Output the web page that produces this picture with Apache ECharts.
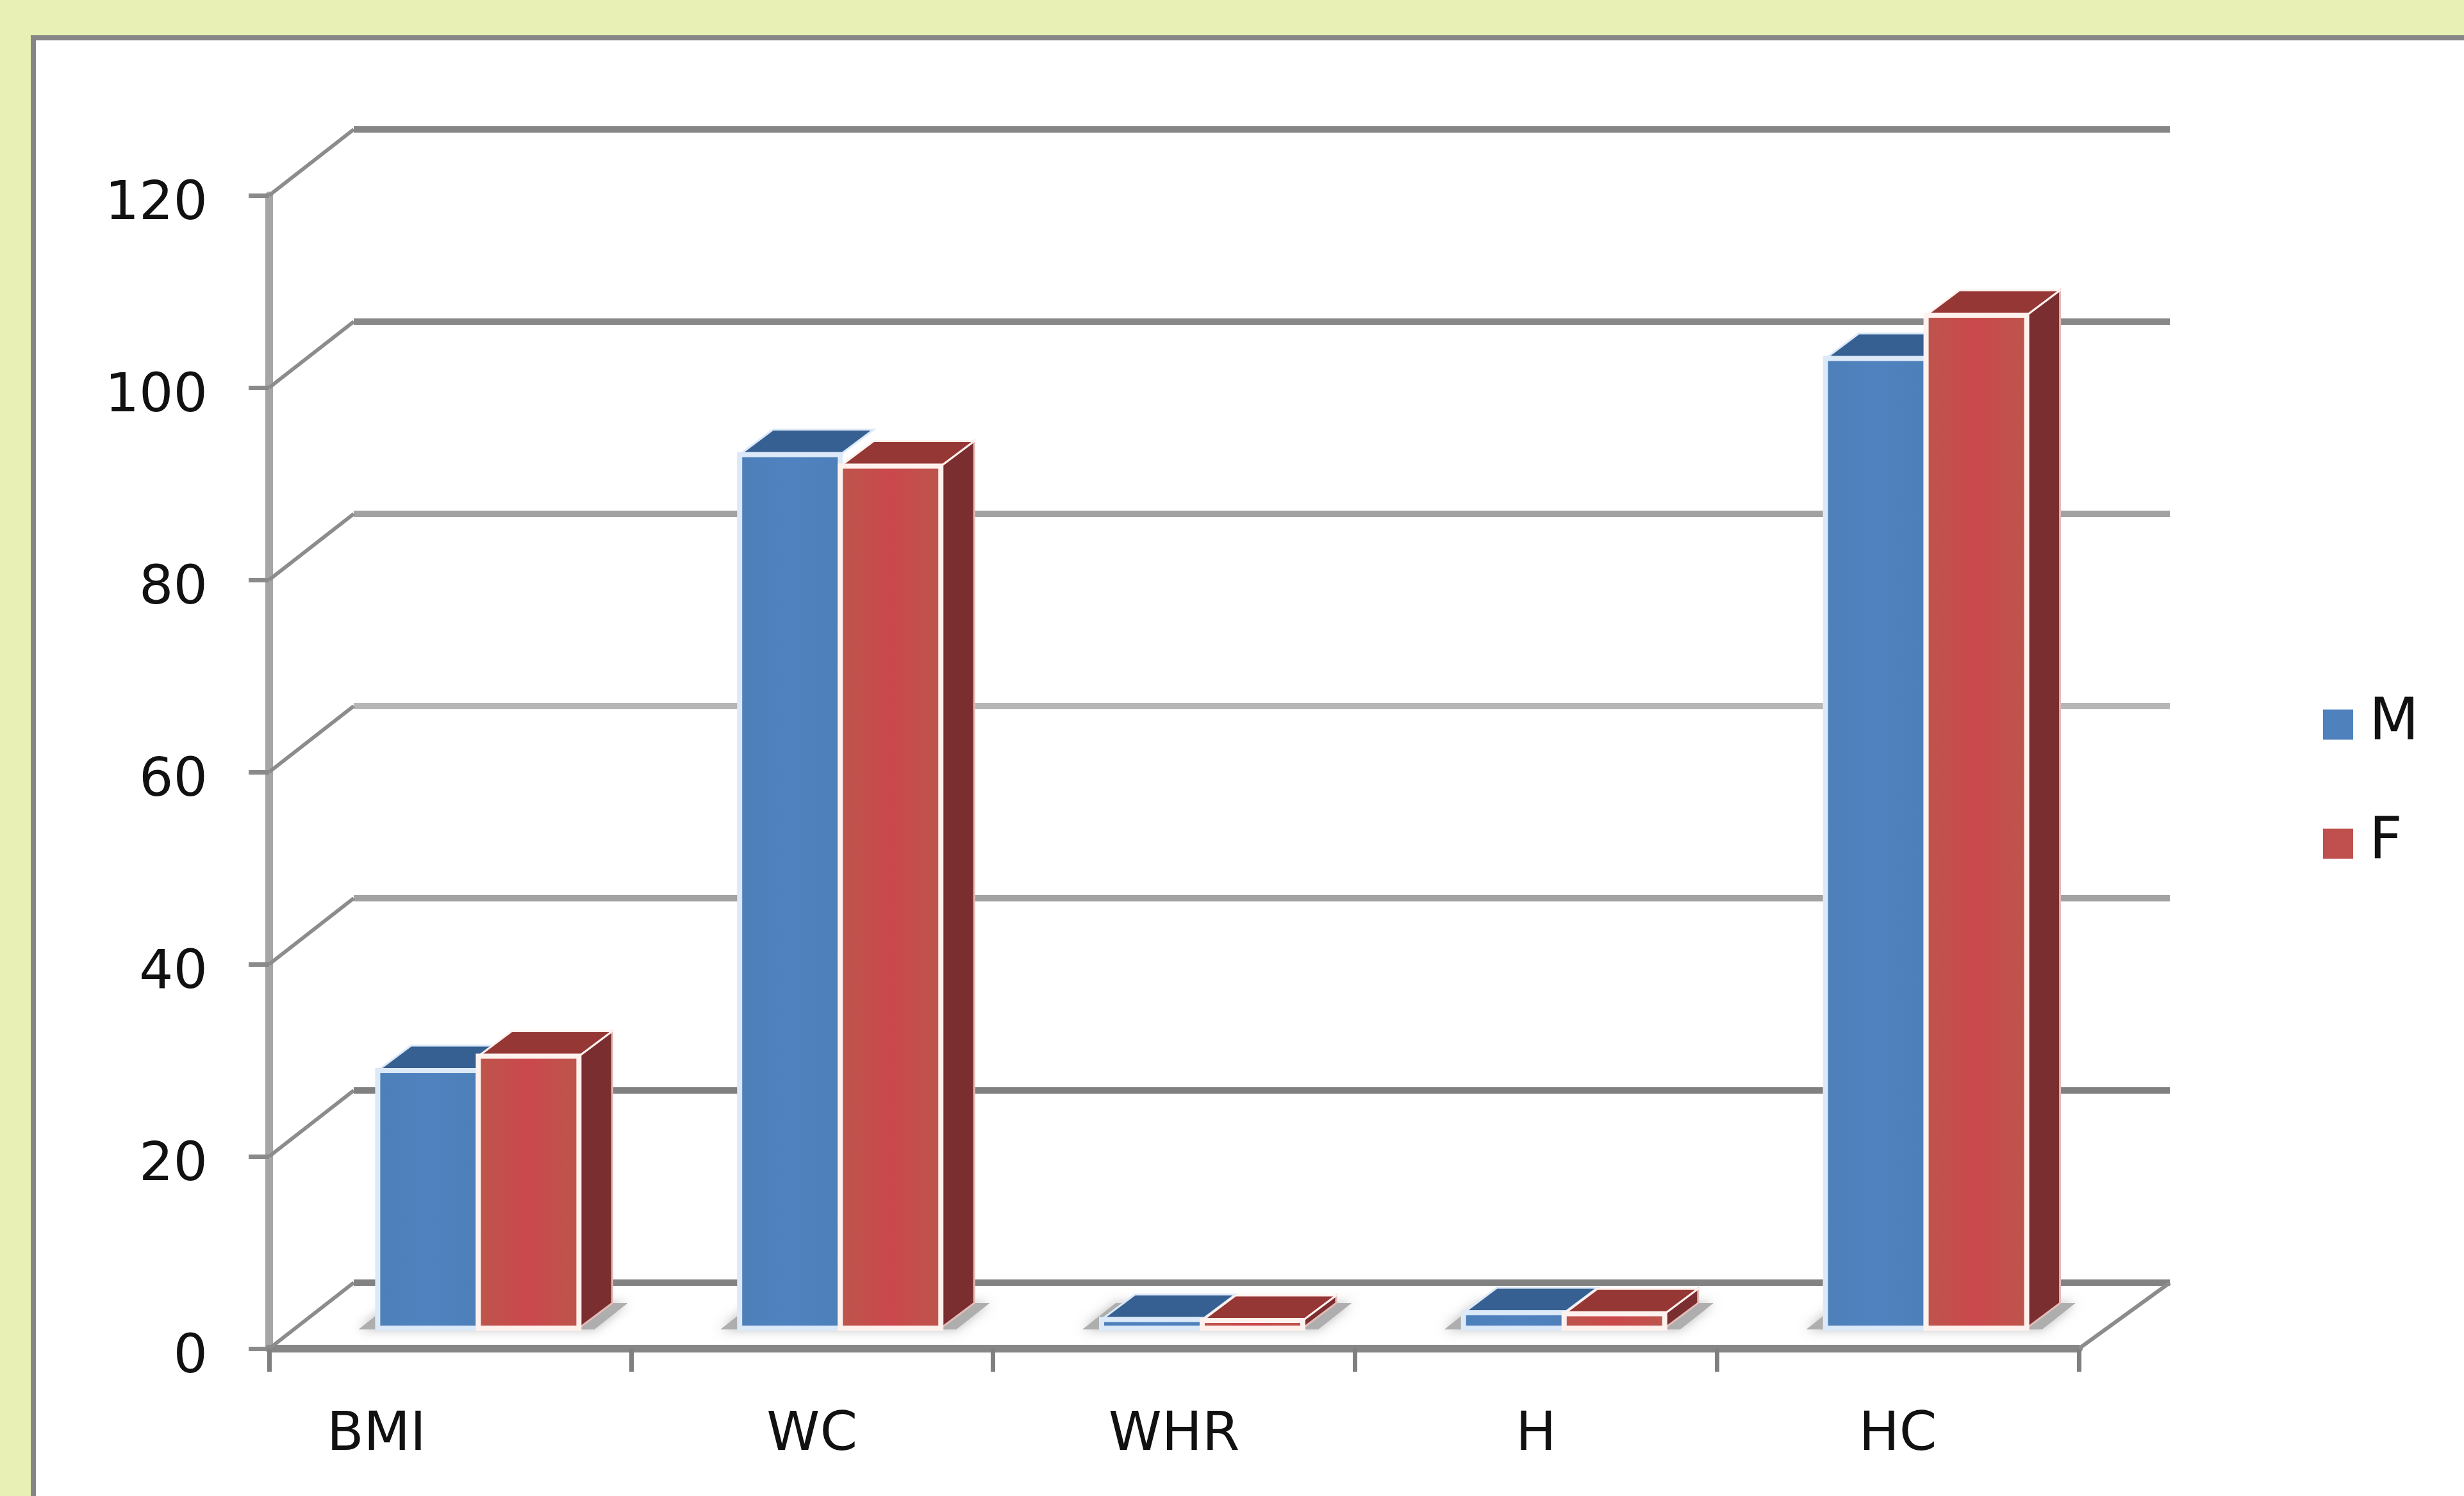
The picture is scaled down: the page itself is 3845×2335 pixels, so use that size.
<!DOCTYPE html>
<html>
<head>
<meta charset="utf-8">
<title>Chart</title>
<script src="https://cdn.jsdelivr.net/npm/echarts@6/dist/echarts.min.js"></script>
<style>
    html, body { margin: 0; padding: 0; background: #e9f0b6; }
    #chart { width: 3845px; height: 2335px; }
</style>
</head>
<body>
<div id="chart"></div>
<script>
const categories = ['BMI', 'WC', 'WHR', 'H', 'HC'];
const maleValues = [26.8, 90.9, 0.9, 1.6, 100.9];
const femaleValues = [28.3, 89.7, 0.8, 1.5, 105.4];
const gridValues = [0, 20, 40, 60, 80, 100, 120];
const gridShades = ['#828282', '#808080', '#a2a2a2', '#b6b6b6', '#a2a2a2', '#888888', '#868686'];

// pseudo 3d offsets, in pixels
const wallDx = 132, wallDy = 103;
const barDx = 52, barDy = 39;
const floorShiftX = 44, floorShiftY = 32;
const barWidth = 157;

function poly(points, style) {
    return { type: 'polygon', shape: { points: points }, style: style };
}

function wallItem(params, api) {
    const value = api.value(1);
    const left = params.coordSys.x;
    const right = left + params.coordSys.width;
    const y = api.coord([0, value])[1];
    const stroke = { stroke: gridShades[params.dataIndex], lineWidth: 10, fill: null };
    const thin = { stroke: '#8c8c8c', lineWidth: 6, fill: null };
    const children = [
        { type: 'line', shape: { x1: left + wallDx, y1: y - wallDy, x2: right + wallDx + 10, y2: y - wallDy }, style: stroke },
        { type: 'line', shape: { x1: left, y1: y, x2: left + wallDx, y2: y - wallDy }, style: thin }
    ];
    if (value === 0) {
        children.push({ type: 'line', shape: { x1: right, y1: y, x2: right + wallDx + 10, y2: y - wallDy }, style: thin });
    }
    return { type: 'group', children: children };
}

function barItem(side, colors) {
    return function (params, api) {
        const top = api.coord([api.value(0), api.value(1)]);
        const base = api.coord([api.value(0), 0]);
        const center = base[0] + floorShiftX;
        const x0 = side < 0 ? center - barWidth : center;
        const x1 = x0 + barWidth;
        const yTop = top[1] - floorShiftY;
        const yBase = base[1] - floorShiftY;
        const children = [];
        if (side < 0) {
            // soft floor shadow under the whole pair of bars
            children.push(poly([
                [x0 - 30, yBase + 2], [center + barWidth + 24, yBase + 2],
                [center + barWidth + 24 + barDx, yBase - barDy], [x0 - 30 + barDx, yBase - barDy]
            ], { fill: '#aeaeae', shadowBlur: 18, shadowColor: '#bcbcbc' }));
        } else {
            children.push(poly([[x1, yTop], [x1 + barDx, yTop - barDy], [x1 + barDx, yBase - barDy], [x1, yBase]],
                { fill: colors.side, stroke: colors.sideEdge, lineWidth: 3 }));
        }
        children.push(poly([[x0, yTop], [x1, yTop], [x1 + barDx, yTop - barDy], [x0 + barDx, yTop - barDy]],
            { fill: colors.top, stroke: colors.edge, lineWidth: 3 }));
        children.push({
            type: 'rect',
            shape: { x: x0, y: yTop, width: barWidth, height: yBase - yTop },
            style: { fill: colors.front, stroke: colors.edge, lineWidth: 8 }
        });
        return { type: 'group', children: children };
    };
}

function stripes(a, b) {
    return new echarts.graphic.LinearGradient(0, 0, 1, 0, [
        { offset: 0, color: a }, { offset: 0.5, color: b }, { offset: 1, color: a }
    ]);
}

const maleColors = { front: stripes('#4d7fb8', '#5082c0'), top: '#376092', side: '#2c4d75', sideEdge: '#2c4d75', edge: '#dce9f8', legend: '#4f81bd' };
const femaleColors = { front: stripes('#bc564c', '#cb484c'), top: '#953735', side: '#7a2e30', sideEdge: '#e2bcb7', edge: '#fff1ee', legend: '#c0504d' };

const chart = echarts.init(document.getElementById('chart'), null, { renderer: 'canvas' });

chart.setOption({
    animation: false,
    backgroundColor: '#e9f0b6',
    graphic: [{
        type: 'rect',
        z: -10,
        shape: { x: 52, y: 59, width: 3900, height: 2400 },
        style: { fill: '#ffffff', stroke: '#868686', lineWidth: 8 }
    }],
    grid: { left: 420, top: 305, width: 2824, height: 1800, containLabel: false },
    legend: {
        data: ['M', 'F'],
        orient: 'vertical',
        left: 3620,
        top: 1081,
        icon: 'rect',
        itemWidth: 47,
        itemHeight: 47,
        itemGap: 96,
        textStyle: { fontFamily: 'DejaVu Sans', fontSize: 90, color: '#111111', padding: [0, 0, 0, 20] }
    },
    xAxis: {
        type: 'category',
        data: categories.map(function (name, i) {
            // the first label sits left of its band in the original
            return i === 0 ? { value: name, textStyle: { padding: [0, 230, 0, 0] } } : name;
        }),
        axisLine: { lineStyle: { color: '#868686', width: 12 } },
        axisTick: { show: true, length: 36, lineStyle: { color: '#7f7f7f', width: 7 } },
        axisLabel: { margin: 94, fontFamily: 'DejaVu Sans', fontSize: 84, color: '#111111', interval: 0 }
    },
    yAxis: {
        type: 'value',
        min: 0,
        max: 120,
        interval: 20,
        splitLine: { show: false },
        axisLine: { show: true, lineStyle: { color: '#a6a6a6', width: 12 } },
        axisTick: { show: true, length: 32, lineStyle: { color: '#8a8a8a', width: 7 } },
        // labels sit a little below their ticks
        axisLabel: { margin: 96, fontFamily: 'DejaVu Sans', fontSize: 84, color: '#111111', verticalAlign: 'top', lineHeight: 30 }
    },
    series: [
        {
            name: 'wall',
            type: 'custom',
            silent: true,
            z: 1,
            renderItem: wallItem,
            encode: { x: 0, y: 1 },
            data: gridValues.map(function (v) { return [0, v]; })
        },
        {
            name: 'M',
            type: 'custom',
            z: 2,
            itemStyle: { color: maleColors.legend },
            renderItem: barItem(-1, maleColors),
            encode: { x: 0, y: 1 },
            data: maleValues.map(function (v, i) { return [i, v]; })
        },
        {
            name: 'F',
            type: 'custom',
            z: 3,
            itemStyle: { color: femaleColors.legend },
            renderItem: barItem(1, femaleColors),
            encode: { x: 0, y: 1 },
            data: femaleValues.map(function (v, i) { return [i, v]; })
        }
    ]
});
</script>
</body>
</html>
